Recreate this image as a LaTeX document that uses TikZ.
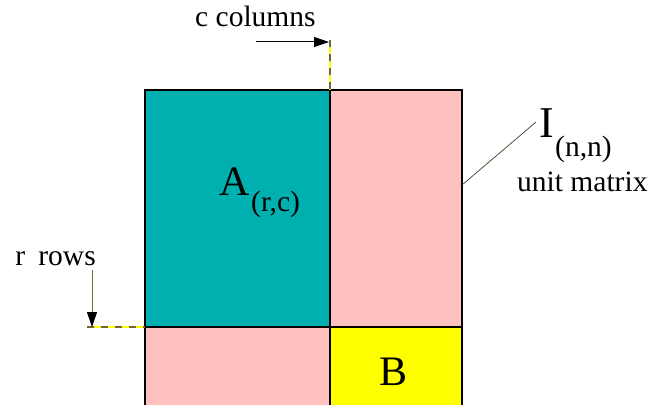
\documentclass[tikz,border=0pt]{standalone}
\usepackage{fontspec}
\setmainfont{Liberation Serif}
\usetikzlibrary{arrows.meta}
\definecolor{teal}{RGB}{0,176,176}
\definecolor{pinkf}{RGB}{255,192,192}
\definecolor{yel}{RGB}{255,255,0}
\definecolor{olive}{RGB}{110,104,56}
\tikzset{
  blk/.style={draw=black,line width=1.6pt},
  lbl/.style={inner sep=0pt,anchor=base west},
  dashy/.style={line width=1.8pt},
  arr/.style={-{Triangle[length=15pt,width=10pt]},line width=1pt},
  txt/.style={font=\fontsize{29.5}{30}\selectfont},
}
\begin{document}
\begin{tikzpicture}[x=1pt,y=-1pt]
\useasboundingbox (0,0) rectangle (650,404);
% fills
\fill[teal] (145,90) rectangle (330,327);
\fill[pinkf] (330,90) rectangle (462,327);
\fill[pinkf] (145,327) rectangle (330,410);
\fill[yel] (330,327) rectangle (462,410);
% borders
\draw[blk] (145,410) -- (145,90) -- (462,90) -- (462,410);
\draw[blk] (330,90) -- (330,410);
\draw[blk] (145,327) -- (462,327);
% labels
\node[lbl,font=\fontsize{42}{42}\selectfont] (A) at (219,195) {A};
\node[lbl,txt] (Asub) at (251,211) {(r,c)};
\node[lbl,font=\fontsize{42}{42}\selectfont] (B) at (379,385) {B};
\node[lbl,font=\fontsize{44}{44}\selectfont] (I) at (539,137) {I};
\node[lbl,txt] (Isub) at (555,156) {(n,n)};
\node[lbl,txt] (um) at (517,191) {unit matrix};
\node[lbl,txt] (cc) at (195,27) {c columns};
\node[inner sep=0pt,anchor=base east,txt] (rr) at (96,265) {r\hspace{0.45em}rows};
% dashed marker lines
\coordinate (ctop) at (330,40);
\coordinate (cbot) at (330,90);
\coordinate (rl) at (87,327);
\coordinate (rr2) at (145,327);
\draw[dashy,yel] (ctop) -- (cbot);
\draw[dashy,olive,dash pattern=on 7pt off 7pt] (ctop) -- (cbot);
\draw[dashy,yel] (rl) -- (rr2);
\draw[dashy,olive,dash pattern=on 7pt off 7pt] (rl) -- (rr2);
% arrows
\coordinate (ca) at (256,42);
\coordinate (cb) at (329,42);
\draw[arr,black] (ca) -- (cb);
\coordinate (ra) at (92,270);
\coordinate (rb) at (92,327);
\draw[arr,olive,-{Triangle[length=15pt,width=10pt,color=black]}] (ra) -- (rb);
% leader
\coordinate (la) at (462,185);
\coordinate (lb) at (536,122);
\draw[olive!60!black,line width=0.7pt] (la) -- (lb);
\end{tikzpicture}
\end{document}
